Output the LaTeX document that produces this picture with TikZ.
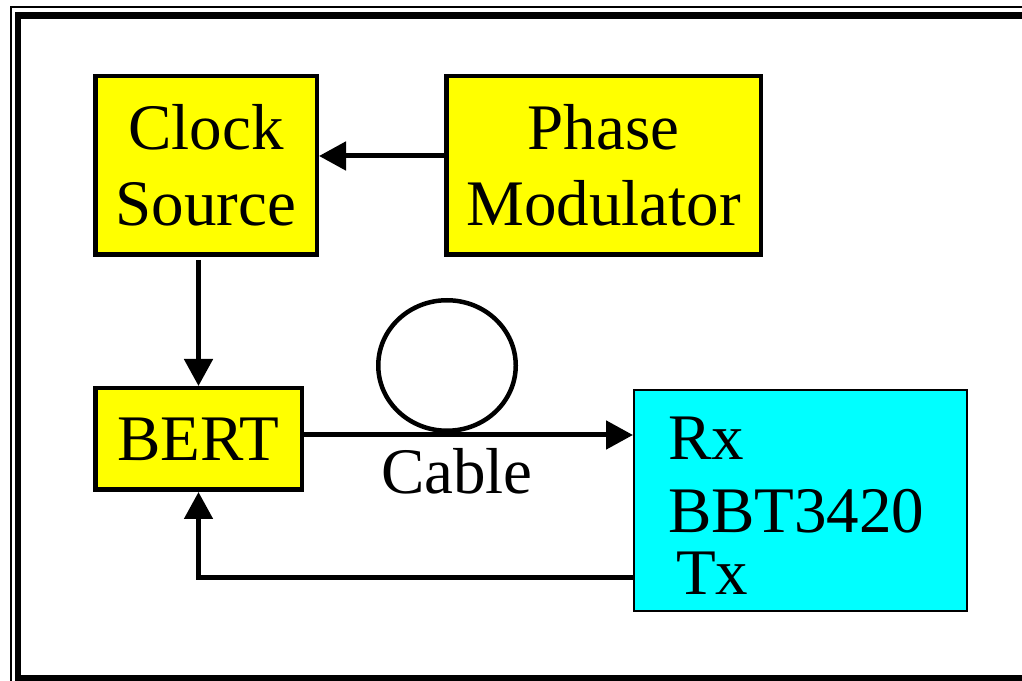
\documentclass[tikz,border=0pt]{standalone}
\usepackage{fontspec}
\setmainfont{Liberation Serif}
\newfontfamily\timesfont{Liberation Serif}
\usetikzlibrary{arrows.meta,positioning,shapes.geometric}
\definecolor{BoxYellow}{HTML}{FFFF00}
\definecolor{BoxCyan}{HTML}{00FFFF}
\tikzset{
  yellowbox/.style={draw=black,fill=BoxYellow,line width=4.5pt,align=center,inner sep=0pt,font=\timesfont\fontsize{65}{76}\selectfont},
  cyanbox/.style={draw=black,fill=BoxCyan,line width=2pt,align=left,inner xsep=34pt,inner ysep=0pt,font=\timesfont\fontsize{65}{73}\selectfont},
  coil/.style={draw=black,ellipse,line width=4.5pt,inner sep=0pt,minimum width=137.5pt,minimum height=130.5pt},
  link/.style={-{Triangle[length=27pt,width=28pt]},draw=black,line width=5pt},
  lbl/.style={font=\timesfont\fontsize{65}{76}\selectfont,inner sep=0pt},
  frameline/.style={draw=black,line width=6.5pt},
  thinframe/.style={draw=black,line width=1.5pt}
}
\begin{document}
\begin{tikzpicture}[x=1pt,y=1pt]
      \clip (0,0) rectangle (1022,680);
      \draw[thinframe] (11,673) rectangle (1040,-20);
      \draw[frameline] (18,664.5) rectangle (1035,2);
      \node[yellowbox,minimum width=221.5pt,minimum height=178.5pt] (clock) at (206,514.5) {Clock\\Source};
      \node[yellowbox,minimum width=314.5pt,minimum height=178.5pt,right=125pt of clock] (phase) {Phase\\Modulator};
      \node[yellowbox,minimum width=206.5pt,minimum height=101.5pt,below right=129pt and 0pt of clock.south west] (bert) {BERT};
      \node[cyanbox,text width=265pt,minimum height=221pt] (bbt) at (800.5,179.5) {\rule{0pt}{54pt}Rx\\BBT3420\\[-11pt]\hspace*{8pt}Tx};
      \node[coil] (loop) at (447,314.5) {};
      \node[lbl,anchor=base] (cable) at (457,186) {Cable};
      \coordinate (txport) at ([yshift=-76.5pt]bbt.west);
      \draw[link] ([yshift=9.5pt]phase.west) -- ([yshift=9.5pt]clock.east);
      \draw[link] ([yshift=-3pt]clock.south -| bert.north) -- (bert.north);
      \draw[link] ([yshift=4pt]bert.east) -- ([yshift=4pt]bert.east -| bbt.west);
      \draw[link] (txport) -| (bert.south);
    \end{tikzpicture}
\end{document}
